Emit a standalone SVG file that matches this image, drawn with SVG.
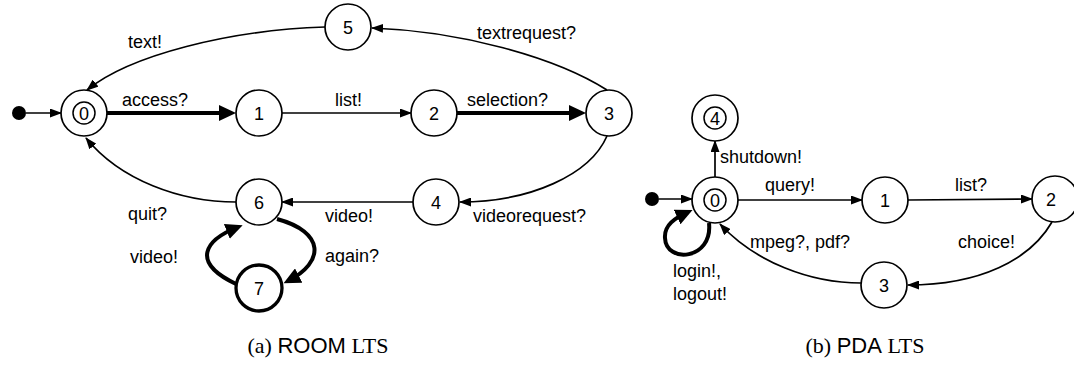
<svg xmlns="http://www.w3.org/2000/svg" width="1074" height="372" viewBox="0 0 1074 372">
<defs>
<marker id="ah" markerUnits="userSpaceOnUse" markerWidth="12" markerHeight="9" refX="11" refY="4.5" orient="auto"><path d="M0,0 L12,4.5 L0,9 z" fill="#000"/></marker>
<marker id="ahb" markerUnits="userSpaceOnUse" markerWidth="17" markerHeight="16" refX="12" refY="8" orient="auto"><path d="M0,0 L17,8 L0,16 z" fill="#000"/></marker>
</defs>
<style>
.n{fill:#fff;stroke:#000;stroke-width:1.7}
.nb{fill:#fff;stroke:#000;stroke-width:3.3}
.in{fill:none;stroke:#000;stroke-width:1.5}
.t{font-family:"Liberation Sans",Arial,sans-serif;font-size:18px;fill:#000}
.c{text-anchor:middle}
.e{fill:none;stroke:#000;stroke-width:1.7;marker-end:url(#ah)}
.eb{fill:none;stroke:#000;stroke-width:4;marker-end:url(#ahb)}
.cap{font-size:22px;fill:#000;text-anchor:middle}
.serif{font-family:"Liberation Serif","Times New Roman",serif}
.sans{font-family:"Liberation Sans",Arial,sans-serif}
</style>
<rect width="1074" height="372" fill="#fff"/>
<g id="connectors">
<path class="e" d="M26,113 L61,113"/>
<path class="eb" d="M107,113 L231,113"/>
<path class="e" d="M282,113 L411,113"/>
<path class="eb" d="M457,113 L581,113"/>
<path class="e" d="M607,90 C555,57 460,31 372,28"/>
<path class="e" d="M325,27 C230,30 130,55 87,90"/>
<path class="e" d="M607,136 C590,175 530,202 460,202"/>
<path class="e" d="M413,202 L282,202"/>
<path class="e" d="M236,202 C180,202 120,180 86,138"/>
<path class="eb" d="M277,219 C325,232 325,262 288,281"/>
<path class="eb" d="M236,284 C190,262 205,240 238,227"/>
<path class="e" d="M659,199 L692,199"/>
<path class="e" d="M715,177 L715,141"/>
<path class="e" d="M738,200 L862,200"/>
<path class="e" d="M908,200 L1032,199"/>
<path class="e" d="M1052,222 C1030,260 980,285 908,285"/>
<path class="e" d="M861,283 C810,283 755,262 720,224"/>
<path class="eb" d="M709,223 C713,260 666,264 665,238 C664,225 675,218 688,212"/>
</g>
<g id="labels" class="t">
<text x="128" y="48">text!</text>
<text x="122" y="106">access?</text>
<text x="335" y="106">list!</text>
<text x="467" y="106">selection?</text>
<text x="477" y="39">textrequest?</text>
<text x="473" y="222">videorequest?</text>
<text x="325" y="222">video!</text>
<text x="128" y="220">quit?</text>
<text x="130" y="263">video!</text>
<text x="325" y="262">again?</text>
<text x="720" y="163">shutdown!</text>
<text x="765" y="191">query!</text>
<text x="955" y="191">list?</text>
<text x="750" y="248">mpeg?, pdf?</text>
<text x="958" y="248">choice!</text>
<text x="673" y="277">login!,</text>
<text x="673" y="300">logout!</text>
</g>
<g id="init-a"><circle cx="19" cy="113" r="7" fill="#000"/></g>
<g id="a0"><circle class="n" cx="84" cy="113" r="23"/><circle class="in" cx="84" cy="113" r="11"/><text class="t c" x="84" y="119.5">0</text></g>
<g id="a1"><circle class="n" cx="259" cy="113" r="23"/><text class="t c" x="259" y="119.5">1</text></g>
<g id="a2"><circle class="n" cx="434" cy="113" r="23"/><text class="t c" x="434" y="119.5">2</text></g>
<g id="a3"><circle class="n" cx="609" cy="113" r="23"/><text class="t c" x="609" y="119.5">3</text></g>
<g id="a4"><circle class="n" cx="436" cy="202" r="23"/><text class="t c" x="436" y="208.5">4</text></g>
<g id="a5"><circle class="n" cx="348" cy="27" r="23"/><text class="t c" x="348" y="33.5">5</text></g>
<g id="a6"><circle class="n" cx="259" cy="202" r="23"/><text class="t c" x="259" y="208.5">6</text></g>
<g id="a7"><circle class="nb" cx="259" cy="288" r="23"/><text class="t c" x="259" y="294.5">7</text></g>
<g id="init-b"><circle cx="652" cy="199" r="7" fill="#000"/></g>
<g id="b0"><circle class="n" cx="715" cy="200" r="23"/><circle class="in" cx="715" cy="200" r="11"/><text class="t c" x="715" y="206.5">0</text></g>
<g id="b1"><circle class="n" cx="885" cy="200" r="23"/><text class="t c" x="885" y="206.5">1</text></g>
<g id="b2"><circle class="n" cx="1055" cy="199" r="23"/><text class="t c" x="1051" y="205.5">2</text></g>
<g id="b3"><circle class="n" cx="884" cy="285" r="23"/><text class="t c" x="884" y="291.5">3</text></g>
<g id="b4"><circle class="n" cx="715" cy="118" r="23"/><circle class="in" cx="715" cy="118" r="11"/><text class="t c" x="715" y="124.5">4</text></g>
<g id="captions">
<text class="cap" x="318" y="353"><tspan class="serif">(a) </tspan><tspan class="sans">ROOM</tspan><tspan class="serif"> LTS</tspan></text>
<text class="cap" x="865" y="353"><tspan class="serif">(b) </tspan><tspan class="sans">PDA</tspan><tspan class="serif"> LTS</tspan></text>
</g>
</svg>
